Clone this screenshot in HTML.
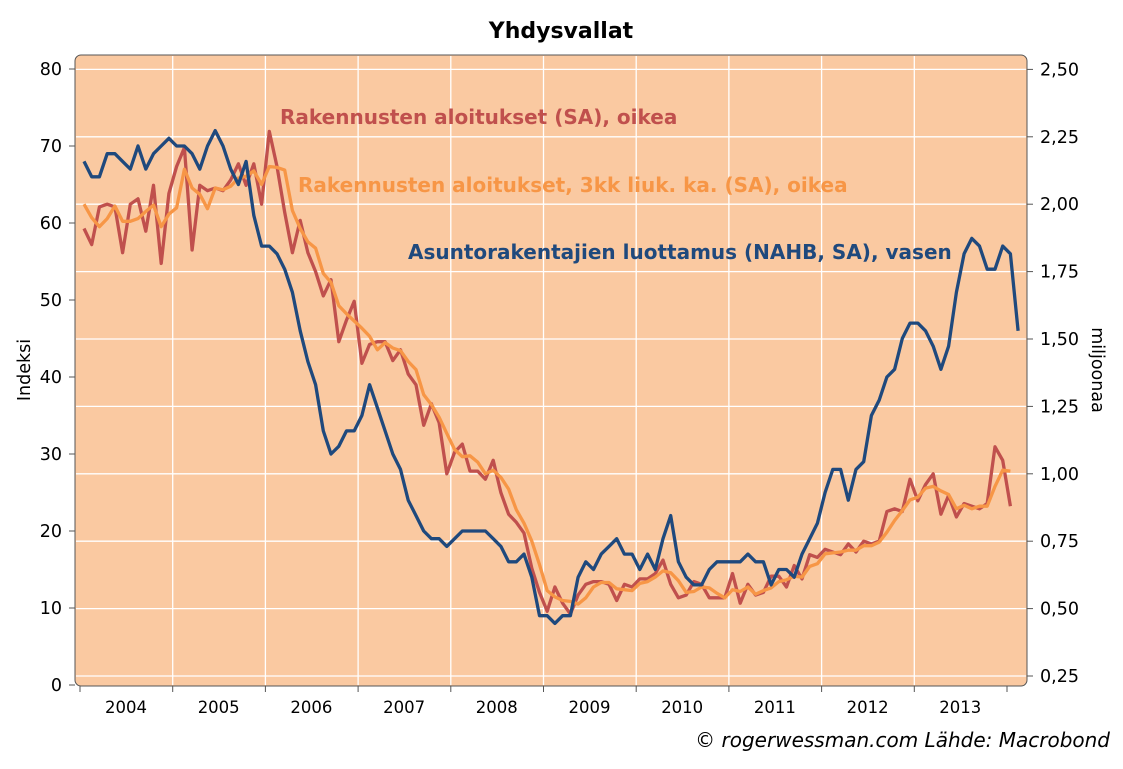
<!DOCTYPE html>
<html><head><meta charset="utf-8"><style>
body{margin:0;background:#fff;width:1123px;height:765px;overflow:hidden;font-family:"DejaVu Sans","Liberation Sans",sans-serif;}
</style></head><body>
<svg id="s" width="1123" height="765" xmlns="http://www.w3.org/2000/svg" font-family="DejaVu Sans, Liberation Sans, sans-serif">
<text x="561" y="38" text-anchor="middle" font-size="22" font-weight="bold">Yhdysvallat</text>
<rect x="75" y="55" width="952" height="631" rx="6" fill="#FAC9A1" stroke="#555" stroke-width="1"/>
<g id="grid" stroke="#fff" stroke-width="1.3"></g>
<g id="lab" font-size="17.5"></g>
<text transform="translate(30,370) rotate(-90)" text-anchor="middle" font-size="17.5">Indeksi</text>
<text transform="translate(1092,370) rotate(90)" text-anchor="middle" font-size="17.5">miljoonaa</text>
<g id="ser" fill="none" stroke-width="3.3" stroke-linejoin="round"></g>
<text x="280" y="124" font-size="20" font-weight="bold" fill="#C0504D">Rakennusten aloitukset (SA), oikea</text>
<text x="298" y="192" font-size="20" font-weight="bold" fill="#F79646">Rakennusten aloitukset, 3kk liuk. ka. (SA), oikea</text>
<text x="408" y="259" font-size="20" font-weight="bold" fill="#1F497D">Asuntorakentajien luottamus (NAHB, SA), vasen</text>
<text x="1110" y="747" text-anchor="end" font-size="20" font-style="italic">© rogerwessman.com Lähde: Macrobond</text>
</svg>
<script>
var NS="http://www.w3.org/2000/svg";
function el(p,t,a,txt){var e=document.createElementNS(NS,t);for(var k in a)e.setAttribute(k,a[k]);if(txt!=null)e.textContent=txt;document.getElementById(p).appendChild(e);return e;}
function yL(v){return 685-v*7.7;}
function yR(v){return 676-(v-0.25)*269.6;}
function X(i){return 84+i*7.72;}
var rl=["0,25","0,50","0,75","1,00","1,25","1,50","1,75","2,00","2,25","2,50"];
for(var k=0;k<10;k++){var v=0.25*(k+1),y=yR(v);el("grid","line",{x1:76,x2:1026,y1:y,y2:y});
el("lab","text",{x:1040,y:y+6},rl[k]);el("lab","line",{x1:1027,x2:1033,y1:y,y2:y,stroke:"#555"});}
for(var k=0;k<=8;k++){var y=yL(k*10);el("lab","text",{x:62,y:y+6,"text-anchor":"end"},String(k*10));el("lab","line",{x1:69,x2:75,y1:y,y2:y,stroke:"#555"});}
for(var k=0;k<=10;k++){var x=80+k*92.7;if(k>0&&k<10)el("grid","line",{x1:x,x2:x,y1:56,y2:685});
el("lab","line",{x1:x,x2:x,y1:686,y2:692,stroke:"#555"});if(k<10)el("lab","text",{x:x+46,y:713,"text-anchor":"middle","font-size":"16.5"},String(2004+k));}
var B=[68,66,66,69,69,68,67,70,67,69,70,71,70,70,69,67,70,72,70,67,65,68,61,57,57,56,54,51,46,42,39,33,30,31,33,33,35,39,36,33,30,28,24,22,20,19,19,18,19,20,20,20,20,19,18,16,16,17,14,9,9,8,9,9,14,16,15,17,18,19,17,17,16,15,17,15,19,22,16,14,13,13,15,16,16,16,16,17,16,16,13,15,15,14,17,19,21,25,28,28,24,28,29,35,37,40,41,45,47,47,46,44,41,44,51,56,58,57,54,54,57,56,46];
B.splice(72,1);
var R=[1.91,1.85,1.99,2.00,1.99,1.82,2.00,2.02,1.90,2.07,1.78,2.04,2.14,2.21,1.83,2.07,2.05,2.06,2.05,2.09,2.15,2.07,2.15,2.00,2.27,2.14,1.97,1.82,1.94,1.82,1.75,1.66,1.72,1.49,1.57,1.64,1.41,1.48,1.49,1.49,1.42,1.46,1.37,1.33,1.18,1.26,1.19,1.00,1.08,1.11,1.01,1.01,0.98,1.05,0.93,0.85,0.82,0.78,0.65,0.56,0.49,0.58,0.52,0.48,0.55,0.59,0.60,0.60,0.59,0.53,0.59,0.58,0.61,0.61,0.63,0.68,0.59,0.54,0.55,0.60,0.59,0.54,0.54,0.54,0.63,0.52,0.59,0.55,0.56,0.62,0.62,0.58,0.66,0.61,0.70,0.69,0.72,0.71,0.70,0.74,0.71,0.75,0.74,0.75,0.86,0.87,0.86,0.98,0.90,0.96,1.00,0.85,0.92,0.84,0.89,0.88,0.87,0.89,1.10,1.05,0.88];
var O=R.map(function(v,i){var a=R[Math.max(0,i-2)],b=R[Math.max(0,i-1)];return i<2?2.0-0.05*i:(a+b+v)/3;});
function path(arr,f,c){var d=arr.map(function(v,i){return (i?"L":"M")+X(i).toFixed(1)+","+f(v).toFixed(1);}).join("");el("ser","path",{d:d,stroke:c});}
path(R,yR,"#C0504D");path(O,yR,"#F79646");path(B,yL,"#1F497D");
</script>
</body></html>
